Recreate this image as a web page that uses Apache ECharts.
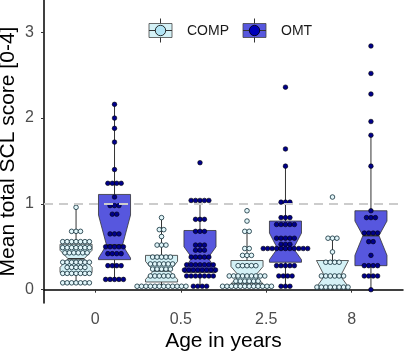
<!DOCTYPE html>
<html>
<head>
<meta charset="utf-8">
<script src="https://cdn.jsdelivr.net/npm/echarts@6/dist/echarts.min.js"></script>
<style>
html, body { margin: 0; padding: 0; background: #fff; }
#chart { width: 405px; height: 355px; }
</style>
</head>
<body>
<div id="chart"></div>
<script>
//*************** data ***************
var ages = ['0', '0.5', '2.5', '8'];
var groups = ['COMP', 'OMT'];

// box stats per age: [lower whisker, q1, notch low, median, notch high, q3, upper whisker]
var comp_box = [
    [0.08, 0.20, 0.26, 0.36, 0.46, 0.53, 0.96],
    [0.04, 0.09, 0.12, 0.22, 0.33, 0.40, 0.84],
    [0.04, 0.07, 0.07, 0.16, 0.27, 0.34, 0.68],
    [0.03, 0.03, 0.03, 0.16, 0.34, 0.34, 0.60]
];
var omt_box = [
    [0.12, 0.35, 0.37, 0.52, 0.87, 1.11, 2.16],
    [0.04, 0.20, 0.24, 0.37, 0.50, 0.69, 1.04],
    [0.04, 0.32, 0.35, 0.48, 0.66, 0.80, 1.44],
    [0.00, 0.28, 0.40, 0.63, 0.80, 0.92, 1.80]
];

// individual scores (dotplot)
var comp_0 = [0.96, 0.68, 0.68, 0.68,
    0.56, 0.56, 0.56, 0.56, 0.56, 0.56, 0.56,
    0.49, 0.49, 0.49, 0.49, 0.49, 0.49, 0.49,
    0.43, 0.43, 0.43, 0.43, 0.43, 0.43,
    0.32, 0.32, 0.32, 0.32, 0.32, 0.32, 0.32,
    0.26, 0.26, 0.26, 0.26, 0.26,
    0.19, 0.19, 0.19, 0.19, 0.19, 0.19, 0.19,
    0.08, 0.08, 0.08, 0.08, 0.08, 0.08, 0.08];
var comp_05 = [0.84, 0.70, 0.70, 0.62, 0.52, 0.52, 0.52,
    0.38, 0.38, 0.38, 0.38, 0.38,
    0.30, 0.30, 0.30, 0.30, 0.30, 0.30,
    0.24, 0.24, 0.24, 0.24, 0.24,
    0.16, 0.16, 0.16, 0.16, 0.16, 0.16,
    0.04, 0.04, 0.04, 0.04, 0.04, 0.04, 0.04, 0.04, 0.04, 0.04, 0.04, 0.04];
var comp_25 = [0.92, 0.80, 0.68, 0.68, 0.48, 0.48, 0.40, 0.40, 0.40,
    0.28, 0.28, 0.28, 0.28, 0.28,
    0.16, 0.16, 0.16, 0.16, 0.16, 0.16, 0.16, 0.16, 0.16,
    0.10, 0.10, 0.10, 0.10, 0.10, 0.10,
    0.04, 0.04, 0.04, 0.04, 0.04, 0.04, 0.04, 0.04, 0.04, 0.04, 0.04, 0.04];
var comp_8 = [1.08, 0.60, 0.60, 0.60, 0.44,
    0.32, 0.32, 0.32, 0.32,
    0.16, 0.16, 0.16, 0.16, 0.16, 0.16,
    0.03, 0.03, 0.03, 0.03, 0.03, 0.03, 0.03, 0.03];

var omt_0 = [2.16, 2.00, 1.88, 1.72, 1.40, 1.24, 1.24, 1.24, 1.24, 1.08,
    0.98, 0.98, 0.98, 0.88, 0.88, 0.65, 0.65, 0.65,
    0.50, 0.50, 0.50, 0.50, 0.50,
    0.42, 0.42, 0.42, 0.42,
    0.28, 0.28, 0.28, 0.28,
    0.12, 0.12, 0.12, 0.12, 0.12];
var omt_05 = [1.48, 1.04, 1.04, 1.04, 1.04, 1.04, 0.82, 0.82, 0.82,
    0.68, 0.68, 0.68, 0.52, 0.52, 0.52, 0.46, 0.46, 0.46,
    0.38, 0.38, 0.38, 0.38, 0.38,
    0.29, 0.29, 0.29, 0.29, 0.29, 0.29, 0.29,
    0.23, 0.23, 0.23, 0.23, 0.23, 0.23, 0.23, 0.23,
    0.16, 0.16, 0.16, 0.16, 0.16, 0.16, 0.16,
    0.04, 0.04, 0.04, 0.04];
var omt_25 = [2.36, 1.64, 1.44, 1.02, 1.02, 1.02, 0.84, 0.84, 0.84,
    0.76, 0.76, 0.76, 0.76, 0.76,
    0.60, 0.60, 0.60, 0.60, 0.60,
    0.53, 0.53, 0.53,
    0.48, 0.48, 0.48, 0.48, 0.48, 0.48, 0.48, 0.48, 0.48, 0.48, 0.48,
    0.28, 0.28, 0.28, 0.28, 0.28,
    0.16, 0.16, 0.16, 0.16,
    0.04, 0.04, 0.04];
var omt_8 = [2.84, 2.52, 2.28, 1.96, 1.80, 1.44, 0.92, 0.84, 0.84, 0.84,
    0.66, 0.66, 0.66, 0.66, 0.56, 0.56, 0.40,
    0.28, 0.28, 0.28, 0.28,
    0.16, 0.16, 0.16, 0.16, 0.00];

var comp_scores = [comp_0, comp_05, comp_25, comp_8];
var omt_scores = [omt_0, omt_05, omt_25, omt_8];

//*************** layout helpers ***************
var dodge = 0.225;      // half of dodge width 0.9
var box_width = 0.375;
var dot_step = 0.052;   // horizontal spacing of stacked dots, in x units

function box_data(stats, offset) {
    return stats.map(function (s, i) {
        return [i + 1 + offset].concat(s);
    });
}

function dot_data(scores, offset) {
    var out = [];
    scores.forEach(function (vals, i) {
        var counts = {};
        vals.forEach(function (v) {
            var k = v.toFixed(2);
            counts[k] = (counts[k] || 0) + 1;
        });
        Object.keys(counts).forEach(function (k) {
            var n = counts[k];
            for (var j = 0; j < n; j++) {
                out.push([i + 1 + offset + (j - (n - 1) / 2) * dot_step, parseFloat(k)]);
            }
        });
    });
    return out;
}

function render_box(params, api) {
    var x = api.value(0);
    var lo = api.value(1), q1 = api.value(2), nl = api.value(3), med = api.value(4),
        nu = api.value(5), q3 = api.value(6), hi = api.value(7);
    var half = api.size([box_width, 0])[0] / 2;
    var cx = api.coord([x, med])[0];
    var py = function (v) { return api.coord([x, v])[1]; };
    var inset = half / 2;
    var pts = [
        [cx - half, py(q3)], [cx - half, py(nu)], [cx - half + inset, py(med)],
        [cx - half, py(nl)], [cx - half, py(q1)], [cx + half, py(q1)],
        [cx + half, py(nl)], [cx + half - inset, py(med)], [cx + half, py(nu)],
        [cx + half, py(q3)]
    ];
    var line_style = { stroke: '#333333', lineWidth: 1 };
    return {
        type: 'group',
        children: [
            { type: 'line', shape: { x1: cx, y1: py(q3), x2: cx, y2: py(hi) }, style: line_style },
            { type: 'line', shape: { x1: cx, y1: py(q1), x2: cx, y2: py(lo) }, style: line_style },
            { type: 'polygon', shape: { points: pts },
              style: { fill: api.visual('color'), stroke: '#333333', lineWidth: 0.8 } },
            { type: 'line', shape: { x1: cx - half + inset, y1: py(med), x2: cx + half - inset, y2: py(med) },
              style: { stroke: '#333333', lineWidth: 1.6 } }
        ]
    };
}

//*************** chart ***************
var chart_dom = document.getElementById('chart');
var chart = echarts.init(chart_dom, null, { renderer: 'canvas' });

var font = 'Liberation Sans, Arial, sans-serif';
var comp_fill = '#d4f1f6';
var omt_fill = '#5757de';

function legend_key(x, box_fill, dot_fill, label) {
    return {
        type: 'group',
        children: [
            { type: 'line', shape: { x1: x + 11.5, y1: 18.5, x2: x + 11.5, y2: 42.5 },
              style: { stroke: '#333333', lineWidth: 1 } },
            { type: 'rect', shape: { x: x, y: 23.5, width: 23, height: 14 },
              style: { fill: box_fill, stroke: '#444444', lineWidth: 0.8 } },
            { type: 'line', shape: { x1: x, y1: 30.5, x2: x + 23, y2: 30.5 },
              style: { stroke: '#333333', lineWidth: 1 } },
            { type: 'circle', shape: { cx: x + 11.5, cy: 30.5, r: 5.2 },
              style: { fill: dot_fill, stroke: '#000000', lineWidth: 0.8 } },
            { type: 'text', x: x + 38, y: 31,
              style: { text: label, fill: '#1a1a1a', font: '14px ' + font, verticalAlign: 'middle' } }
        ]
    };
}

var option = {
    animation: false,
    backgroundColor: '#ffffff',
    textStyle: { fontFamily: font },
    grid: { left: 44, right: 2, top: 0, bottom: 52, outerBoundsMode: 'none' },
    xAxis: {
        type: 'value',
        min: 0.4,
        max: 4.6,
        splitLine: { show: false },
        axisLine: { lineStyle: { color: '#000000', width: 1.5 } },
        axisTick: { show: true, length: 3, customValues: [1, 2, 3, 4], lineStyle: { color: '#333333' } },
        axisLabel: {
            customValues: [1, 2, 3, 4],
            formatter: function (v) { return ages[Math.round(v) - 1]; },
            color: '#4d4d4d', fontSize: 16, margin: 9
        },
        name: 'Age in years',
        nameLocation: 'middle',
        nameGap: 28,
        nameMoveOverlap: false,
        nameTextStyle: { fontSize: 21, color: '#000000' }
    },
    yAxis: {
        type: 'value',
        min: -0.155,
        max: 3.376,
        splitLine: { show: false },
        axisLine: { show: true, lineStyle: { color: '#000000', width: 1.5 } },
        axisTick: { show: true, length: 3, customValues: [0, 1, 2, 3], lineStyle: { color: '#333333' } },
        axisLabel: { customValues: [0, 1, 2, 3], color: '#4d4d4d', fontSize: 16, margin: 10 },
        name: 'Mean total SCL score [0-4]',
        nameLocation: 'middle',
        nameGap: 25,
        nameMoveOverlap: false,
        nameTextStyle: { fontSize: 21, color: '#000000' }
    },
    graphic: [
        legend_key(149, comp_fill, '#b3e5f5', groups[0]),
        legend_key(243, omt_fill, '#0000b8', groups[1])
    ],
    series: [
        {
            name: groups[0] + ' box', type: 'custom', z: 2,
            renderItem: render_box,
            itemStyle: { color: comp_fill },
            encode: { x: 0, y: [1, 2, 3, 4, 5, 6, 7] },
            data: box_data(comp_box, -dodge)
        },
        {
            name: groups[1] + ' box', type: 'custom', z: 2,
            renderItem: render_box,
            itemStyle: { color: omt_fill },
            encode: { x: 0, y: [1, 2, 3, 4, 5, 6, 7] },
            data: box_data(omt_box, dodge)
        },
        {
            name: groups[0], type: 'scatter', z: 3,
            symbolSize: 4.6,
            itemStyle: { color: '#e2f6fa', borderColor: '#0d2b36', borderWidth: 0.8, opacity: 1 },
            data: dot_data(comp_scores, -dodge)
        },
        {
            name: groups[1], type: 'scatter', z: 3,
            symbolSize: 4.6,
            itemStyle: { color: '#00008b', borderColor: '#000000', borderWidth: 0.6, opacity: 1 },
            data: dot_data(omt_scores, dodge)
        },
        {
            name: 'ref', type: 'scatter', z: 4, data: [],
            markLine: {
                silent: true,
                symbol: ['none', 'none'],
                label: { show: false },
                lineStyle: { color: '#cccccc', type: [9, 6], width: 1.8 },
                data: [{ yAxis: 1 }]
            }
        }
    ]
};

chart.setOption(option);
</script>
</body>
</html>
